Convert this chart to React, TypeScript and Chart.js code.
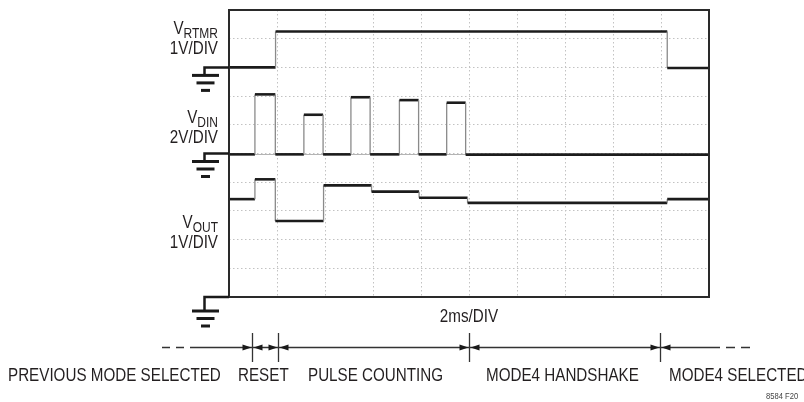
import React, { useEffect, useRef } from "react";
import { Chart, registerables } from "chart.js";

Chart.register(...registerables);

// ---- data (x in ms, 2 ms/div; y in screen divisions, 0..10) ----
const timeMinMs = 0;
const timeMaxMs = 20;
const timeStepMs = 2;
const divMin = 0;
const divMax = 10;

const vrtmrEdgesMs = [1.94, 18.26];
const vrtmrLevels = [8.0, 9.25, 7.98];

const vdinEdgesMs = [1.08, 1.93, 3.12, 3.92, 5.08, 5.88, 7.1, 7.9, 9.07, 9.86];
const vdinLevels = [4.97, 7.06, 4.97, 6.35, 4.97, 6.96, 4.97, 6.86, 4.97, 6.77, 4.96];

const voutEdgesMs = [1.08, 1.93, 3.94, 5.94, 7.92, 9.94, 18.26];
const voutLevels = [3.41, 4.1, 2.65, 3.89, 3.67, 3.46, 3.28, 3.41];

const traceSubscripts = ["RTMR", "DIN", "OUT"];
const traceScaleLabels = ["1V/DIV", "2V/DIV", "1V/DIV"];
const groundLevels = [8, 5, 0];

const phaseLabels = ["PREVIOUS MODE SELECTED", "RESET", "PULSE COUNTING", "MODE4 HANDSHAKE", "MODE4 SELECTED"];
const phaseMarkersMs = [0.97, 2.05, 10.0, 17.96];
const timeBaseLabel = "2ms/DIV";
const figureId = "8584 F20";

// ---- helpers ----
function stepPoints(edges: number[], levels: number[]) {
  const pts: { x: number; y: number }[] = [];
  levels.forEach((lvl, i) => {
    const start = i === 0 ? timeMinMs : edges[i - 1];
    const end = i === levels.length - 1 ? timeMaxMs : edges[i];
    pts.push({ x: start, y: lvl });
    pts.push({ x: end, y: lvl });
  });
  return pts;
}

const SX = 0.8;
const FONT = '"Liberation Sans", Arial, sans-serif';
const INK = "#231f20";

function drawText(ctx: CanvasRenderingContext2D, s: string, x: number, y: number, size: number, align: CanvasTextAlign = "left", color = INK) {
  ctx.save();
  ctx.font = `${size}px ${FONT}`;
  ctx.fillStyle = color;
  ctx.textBaseline = "alphabetic";
  ctx.textAlign = align;
  ctx.translate(x, y);
  ctx.scale(SX, 1);
  ctx.fillText(s, 0, 0);
  ctx.restore();
}
function textW(ctx: CanvasRenderingContext2D, s: string, size: number) {
  ctx.save();
  ctx.font = `${size}px ${FONT}`;
  const w = ctx.measureText(s).width * SX;
  ctx.restore();
  return w;
}

const overlayPlugin = {
  id: "scopeOverlay",
  beforeDatasetsDraw(chart: any) {
    const { ctx, chartArea, scales } = chart;
    const y = Math.round(scales.y.getPixelForValue(5)) + 0.5;
    ctx.save();
    ctx.strokeStyle = "#b4b4b4";
    ctx.lineWidth = 1;
    ctx.beginPath();
    ctx.moveTo(chartArea.left, y);
    ctx.lineTo(chartArea.right, y);
    ctx.stroke();
    ctx.restore();
  },
  afterDatasetsDraw(chart: any) {
    const { ctx, chartArea } = chart;
    ctx.save();
    ctx.strokeStyle = "#2a2a2a";
    ctx.lineWidth = 2;
    ctx.strokeRect(chartArea.left, chartArea.top, chartArea.right - chartArea.left, chartArea.bottom - chartArea.top);
    ctx.restore();
  },
  afterDraw(chart: any) {
    const { ctx, chartArea, scales } = chart;
    const xs = scales.x;
    const ys = scales.y;
    ctx.save();

    // trace labels
    const R = 218;
    const baselines = [34, 122.7, 228.3];
    traceSubscripts.forEach((sub, i) => {
      const b = baselines[i];
      const subW = textW(ctx, sub, 15);
      drawText(ctx, sub, R, b + 4, 15, "right");
      drawText(ctx, "V", R - subW, b, 19, "right");
      drawText(ctx, traceScaleLabels[i], R, b + 20, 19, "right");
    });

    // ground symbols
    const gx = 205.5;
    groundLevels.forEach((lvl, i) => {
      const gy = ys.getPixelForValue(lvl);
      const drop = i === 2 ? 14 : 8;
      ctx.strokeStyle = "#1a1a1a";
      ctx.lineWidth = 2.5;
      ctx.beginPath();
      ctx.moveTo(chartArea.left, gy);
      ctx.lineTo(gx - 1, gy);
      ctx.lineTo(gx - 1, gy + drop);
      ctx.stroke();
      ctx.fillStyle = "#1a1a1a";
      const widths = [27, 18, 9];
      widths.forEach((w, k) => {
        ctx.fillRect(gx - w / 2, gy + drop - 1.5 + k * 7.5, w, 3);
      });
    });

    // time base label
    drawText(ctx, timeBaseLabel, xs.getPixelForValue(10), 322, 19, "center");

    // phase timeline
    const ty = 347.5;
    const marks = phaseMarkersMs.map((m) => Math.round(xs.getPixelForValue(m)) + 0.5);
    ctx.strokeStyle = "#333";
    ctx.fillStyle = "#1a1a1a";
    ctx.lineWidth = 1.3;
    // left dashed lead-in
    ctx.setLineDash([8, 6]);
    ctx.beginPath();
    ctx.moveTo(162, ty);
    ctx.lineTo(191, ty);
    ctx.stroke();
    ctx.setLineDash([]);
    ctx.beginPath();
    ctx.moveTo(191, ty);
    ctx.lineTo(720, ty);
    ctx.stroke();
    ctx.setLineDash([9, 6]);
    ctx.beginPath();
    ctx.moveTo(726, ty);
    ctx.lineTo(756, ty);
    ctx.stroke();
    ctx.setLineDash([]);
    marks.forEach((mx) => {
      ctx.beginPath();
      ctx.moveTo(mx, 333);
      ctx.lineTo(mx, 362);
      ctx.stroke();
      // arrow from left pointing right
      ctx.beginPath();
      ctx.moveTo(mx - 1, ty);
      ctx.lineTo(mx - 10, ty - 3);
      ctx.lineTo(mx - 10, ty + 3);
      ctx.closePath();
      ctx.fill();
      // arrow from right pointing left
      ctx.beginPath();
      ctx.moveTo(mx + 1, ty);
      ctx.lineTo(mx + 10, ty - 3);
      ctx.lineTo(mx + 10, ty + 3);
      ctx.closePath();
      ctx.fill();
    });

    const labelX = [8, 238, 308, 486, 669];
    phaseLabels.forEach((s, i) => drawText(ctx, s, labelX[i], 381, 19, "left"));

    drawText(ctx, figureId, 766, 399, 9.5, "left", "#444");
    ctx.restore();
  },
};

export default function App() {
  const ref = useRef<HTMLCanvasElement | null>(null);
  useEffect(() => {
    if (!ref.current) return;
    const seg = {
      borderColor: (c: any) => (c.p0.parsed.x === c.p1.parsed.x ? "#8a8a8a" : undefined),
      borderWidth: (c: any) => (c.p0.parsed.x === c.p1.parsed.x ? 1.3 : undefined),
    };
    const mk = (label: string, data: any[]) => ({
      label,
      data,
      borderColor: "#1c1c1c",
      borderWidth: 2.6,
      pointRadius: 0,
      tension: 0,
      fill: false,
      segment: seg,
    });
    const chart = new Chart(ref.current, {
      type: "line",
      data: {
        datasets: [
          mk("VRTMR", stepPoints(vrtmrEdgesMs, vrtmrLevels)),
          mk("VDIN", stepPoints(vdinEdgesMs, vdinLevels)),
          mk("VOUT", stepPoints(voutEdgesMs, voutLevels)),
        ],
      },
      options: {
        animation: false,
        responsive: false,
        maintainAspectRatio: false,
        layout: { padding: { left: 229, right: 95, top: 10, bottom: 105 } },
        plugins: { legend: { display: false }, tooltip: { enabled: false }, title: { display: false } },
        scales: {
          x: {
            type: "linear",
            min: timeMinMs,
            max: timeMaxMs,
            ticks: { display: false, stepSize: timeStepMs },
            grid: { color: "#c2c2c2", lineWidth: 1, drawTicks: false },
            border: { display: false, dash: [1.5, 2.5] },
          },
          y: {
            type: "linear",
            min: divMin,
            max: divMax,
            ticks: { display: false, stepSize: 1 },
            grid: { color: "#c2c2c2", lineWidth: 1, drawTicks: false },
            border: { display: false, dash: [1.5, 2.5] },
          },
        },
      },
      plugins: [overlayPlugin],
    } as any);
    return () => chart.destroy();
  }, []);
  return (
    <div style={{ position: "fixed", left: 0, top: 0, width: 804, height: 402, background: "#fff" }}>
      <canvas ref={ref} width={804} height={402} style={{ display: "block" }} />
    </div>
  );
}
